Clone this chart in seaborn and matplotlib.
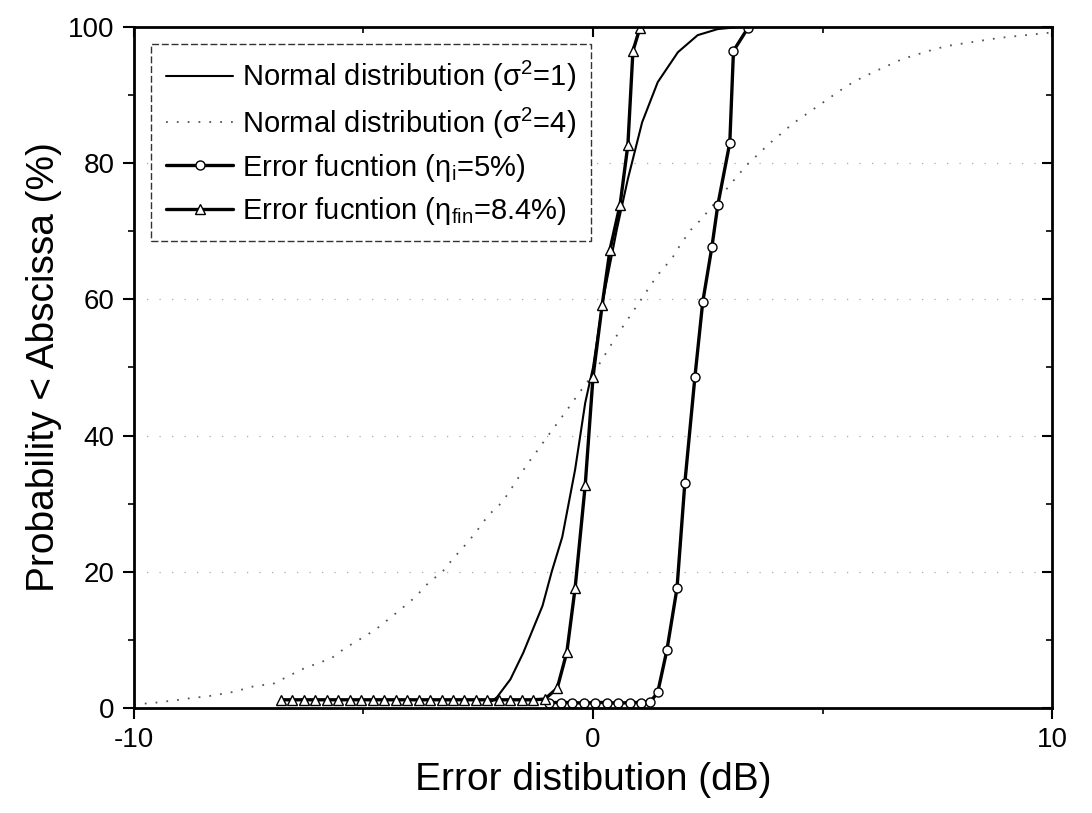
import numpy as np
import pandas as pd
import matplotlib
matplotlib.use("Agg")
import matplotlib.pyplot as plt
import seaborn as sns

# ---- data ----
norm1_x = [-2.2, -2.09, -1.8, -1.52, -1.1, -0.9, -0.67, -0.39, -0.17, 0.0, 0.22, 0.52,
           0.76, 1.07, 1.41, 1.85, 2.28, 2.72, 3.2]
norm1_y = [1.0, 1.6, 4.2, 8.1, 15.0, 20.0, 25.1, 35.0, 44.8, 50.0, 60.0, 70.3,
           77.7, 86.0, 91.9, 96.3, 98.8, 99.7, 100.0]

norm4_x = [-10.0, -9.5, -9.02, -8.7, -8.4, -7.8, -7.45, -6.95, -6.6, -6.3, -5.7, -5.4, -5.1,
           -4.74, -4.48, -4.15, -3.87, -3.58, -3.28, -3.04, -2.72, -2.52, -2.28, -1.98,
           -1.8, -1.59, -1.41, -1.2, -1.0, -0.78, -0.54, -0.33, 0.0, 0.5, 1.0, 1.41, 1.72,
           1.91, 2.13, 2.35, 3.33, 3.83, 4.35, 5.22, 5.52, 5.78, 6.15, 6.74, 7.37, 7.7,
           8.85, 9.43, 10.0]
norm4_y = [0.5, 0.8, 1.2, 1.5, 1.7, 2.4, 3.1, 3.6, 4.8, 5.8, 7.3, 8.8, 10.0,
           11.5, 12.9, 14.7, 16.3, 18.4, 20.0, 22.0, 24.4, 26.1, 28.3, 30.2,
           32.0, 34.2, 36.0, 37.9, 39.8, 41.8, 44.0, 46.0, 49.0, 54.5, 59.5, 63.6, 66.0,
           68.1, 70.2, 71.7, 79.6, 82.8, 85.8, 89.9, 91.3, 92.3, 93.5, 95.3, 96.6, 97.2,
           98.4, 98.8, 99.2]

err5_x = [-0.95, -0.7, -0.45, -0.2, 0.05, 0.3, 0.55, 0.8, 1.05, 1.25,
          1.41, 1.61, 1.83, 2.0, 2.22, 2.39, 2.59, 2.72, 2.98, 3.06, 3.37]
err5_y = [0.8, 0.8, 0.8, 0.7, 0.8, 0.8, 0.7, 0.8, 0.8, 0.9,
          2.3, 8.5, 17.6, 33.0, 48.6, 59.6, 67.7, 73.9, 83.0, 96.5, 99.8]

err84_x = [-6.8, -6.55, -6.3, -6.05, -5.8, -5.55, -5.3, -5.05, -4.8, -4.55, -4.3, -4.05,
           -3.8, -3.55, -3.3, -3.05, -2.8, -2.55, -2.3, -2.05, -1.8, -1.55, -1.3, -1.05,
           -0.78, -0.57, -0.39, -0.17, 0.0, 0.2, 0.37, 0.59, 0.76, 0.87, 1.02]
err84_y = [1.2, 1.2, 1.2, 1.2, 1.2, 1.2, 1.2, 1.2, 1.2, 1.2, 1.2, 1.2,
           1.2, 1.2, 1.2, 1.2, 1.2, 1.2, 1.2, 1.2, 1.2, 1.2, 1.2, 1.3,
           2.9, 8.2, 17.6, 32.7, 48.6, 59.2, 67.3, 73.9, 82.7, 96.5, 99.8]

labels = ["Normal distribution (σ$^2$=1)",
          "Normal distribution (σ$^2$=4)",
          "Error fucntion (η$_i$=5%)",
          "Error fucntion (η$_{fin}$=8.4%)"]
x_ticks = [-10, 0, 10]
y_ticks = [0, 20, 40, 60, 80, 100]

# ---- style ----
sns.set_theme(style="ticks")
plt.rcParams["font.family"] = ["Liberation Sans", "DejaVu Sans"]
plt.rcParams["mathtext.fontset"] = "custom"
plt.rcParams["mathtext.rm"] = "Liberation Sans"
plt.rcParams["mathtext.it"] = "Liberation Sans"
plt.rcParams["axes.unicode_minus"] = False
plt.rcParams["text.color"] = "black"
plt.rcParams["axes.labelcolor"] = "black"
plt.rcParams["xtick.color"] = "black"
plt.rcParams["ytick.color"] = "black"

fig = plt.figure(figsize=(10.92, 8.13), dpi=100)
ax = fig.add_axes([0.1227, 0.1292, 0.8407, 0.8376])

# faint horizontal grid
for gy in [20, 40, 60, 80]:
    ax.axhline(gy, color="#aaaaaa", lw=0.9, ls=(0, (1, 9)), zorder=0)

sns.lineplot(x=norm1_x, y=norm1_y, ax=ax, color="black", lw=1.5,
             label=labels[0], sort=False)
sns.lineplot(x=norm4_x, y=norm4_y, ax=ax, color="#555555", lw=1.3,
             linestyle=(0, (1, 5)), label=labels[1], sort=False)
sns.lineplot(x=err5_x, y=err5_y, ax=ax, color="black", lw=2.4, marker="o",
             markersize=6.5, markerfacecolor="white", markeredgecolor="black",
             markeredgewidth=1.0, label=labels[2], sort=False)
sns.lineplot(x=err84_x, y=err84_y, ax=ax, color="black", lw=2.4, marker="^",
             markersize=7, markerfacecolor="white", markeredgecolor="black",
             markeredgewidth=1.0, label=labels[3], sort=False)

ax.set_xlim(-10, 10)
ax.set_ylim(0, 100)
ax.set_xticks(x_ticks)
ax.set_xticks([-5, 5], minor=True)
ax.set_yticks(y_ticks)
ax.set_yticks([10, 30, 50, 70, 90], minor=True)
ax.tick_params(axis="both", which="major", direction="out", length=8, width=1.5,
               labelsize=20, colors="black", pad=6)
ax.tick_params(axis="both", which="minor", direction="out", length=4, width=1.2)

for s in ax.spines.values():
    s.set_linewidth(2.0)
    s.set_color("black")
    s.set_visible(True)

# mirrored ticks on top / right pointing inward
top = ax.secondary_xaxis("top")
top.set_xticks(x_ticks)
top.set_xticks([-5, 5], minor=True)
top.tick_params(which="major", direction="in", length=7, width=1.5, labeltop=False)
top.tick_params(which="minor", direction="in", length=4, width=1.2)
right = ax.secondary_yaxis("right")
right.set_yticks(y_ticks)
right.set_yticks([10, 30, 50, 70, 90], minor=True)
right.tick_params(which="major", direction="in", length=7, width=1.5, labelright=False)
right.tick_params(which="minor", direction="in", length=4, width=1.2)
for sa in (top, right):
    for s in sa.spines.values():
        s.set_visible(False)

ax.set_xlabel("Error distibution (dB)", fontsize=28, labelpad=6, color="black")
ax.set_ylabel("Probability < Abscissa (%)", fontsize=28, labelpad=4, color="black")

leg = ax.legend(loc="upper left", bbox_to_anchor=(0.0, 1.0), fontsize=21,
                frameon=True, fancybox=False, handlelength=2.3, handletextpad=0.3,
                labelspacing=0.38, borderpad=0.5, borderaxespad=0.6)
for t in leg.get_texts():
    t.set_color("black")
fr = leg.get_frame()
fr.set_edgecolor("#333333")
fr.set_linewidth(1.0)
fr.set_linestyle((0, (5, 2)))
fr.set_facecolor("white")
fr.set_alpha(1.0)

fig.savefig("out.png", dpi=100)
